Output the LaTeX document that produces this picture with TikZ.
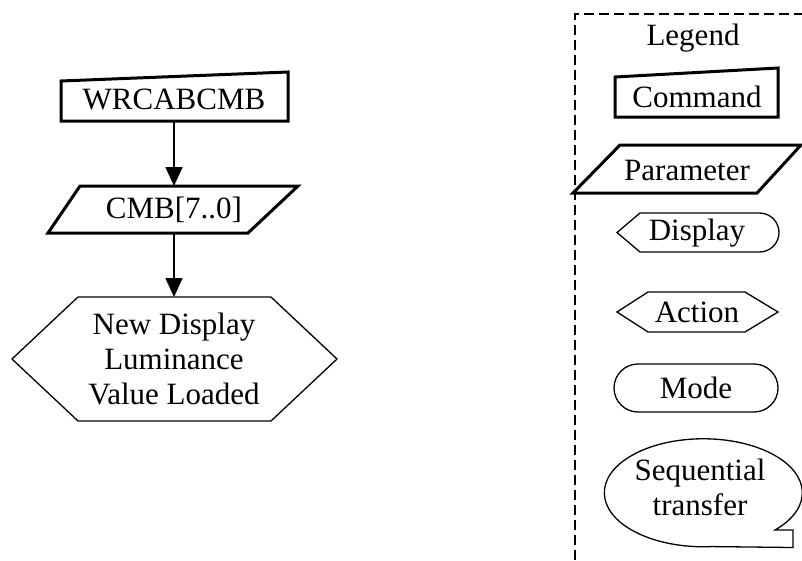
\documentclass[tikz,border=0pt]{standalone}
\usepackage{fontspec}
\setmainfont{Liberation Serif}
\usetikzlibrary{arrows.meta}
\begin{document}
\begin{tikzpicture}[x=1pt,y=-1pt,
  txt/.style={inner sep=0pt,outer sep=0pt,font=\fontsize{31}{35}\selectfont,align=center},
  thickbox/.style={line width=3pt,line join=miter},
  thinbox/.style={line width=1.3pt,line join=miter},
  flow/.style={line width=1.6pt,-{Triangle[length=19pt,width=17pt]}},
  legendline/.style={line width=1.4pt,dash pattern=on 10pt off 5pt}]
\useasboundingbox (0,0) rectangle (802,560);
% ---------- main flow ----------
\draw[thickbox] (61,81) -- (288,72) -- (288,121) -- (61,121) -- cycle;
\node[txt,minimum width=227pt,minimum height=44pt] (cmd) at (174,99) {WRCABCMB};
\draw[thickbox] (80,186) -- (298,186) -- (248,233) -- (48,233) -- cycle;
\node[txt,minimum width=150pt,minimum height=47pt] (par) at (174,209.5) {CMB[7..0]};
\draw[thinbox] (12,359) -- (78,297) -- (271,297) -- (337,359) -- (271,421) -- (78,421) -- cycle;
\node[txt,minimum width=190pt,minimum height=124pt] (act) at (174,359) {New Display\\Luminance\\Value Loaded};
\draw[flow] (cmd.south) -- (par.north);
\draw[flow] (par.south) -- (act.north);
% ---------- legend ----------
\coordinate (lgb) at (575,560);
\coordinate (lgc) at (575,14);
\coordinate (lgr) at (802,14);
\draw[legendline] (lgb) -- (lgc) -- (lgr);
\node[txt] (lgt) at (693,38) {Legend};
\draw[thickbox] (615,77) -- (778,68) -- (778,117) -- (615,117) -- cycle;
\node[txt] (lcmd) at (697,97) {Command};
\draw[thickbox] (620,145) -- (801,145) -- (757,193) -- (573,193) -- cycle;
\node[txt] (lpar) at (687,170) {Parameter};
\draw[thinbox] (617,232.5) -- (640,213) -- (759.5,213) arc (-90:90:19.5) -- (640,252) -- cycle;
\node[txt] (ldis) at (697,233) {Display};
\draw[thinbox] (617,312) -- (648,292) -- (745,292) -- (778,312) -- (745,332) -- (648,332) -- cycle;
\node[txt] (lact) at (697,312) {Action};
\draw[thinbox,rounded corners=24pt] (614,364) rectangle (778,412);
\node[txt] (lmod) at (696,388) {Mode};
\draw[thinbox] (775,530) arc (43.6:-275:99 and 54) -- (793,547.5) -- (793,530) -- cycle;
\node[txt] (lseq) at (700,487) {Sequential\\transfer};
\end{tikzpicture}
\end{document}
